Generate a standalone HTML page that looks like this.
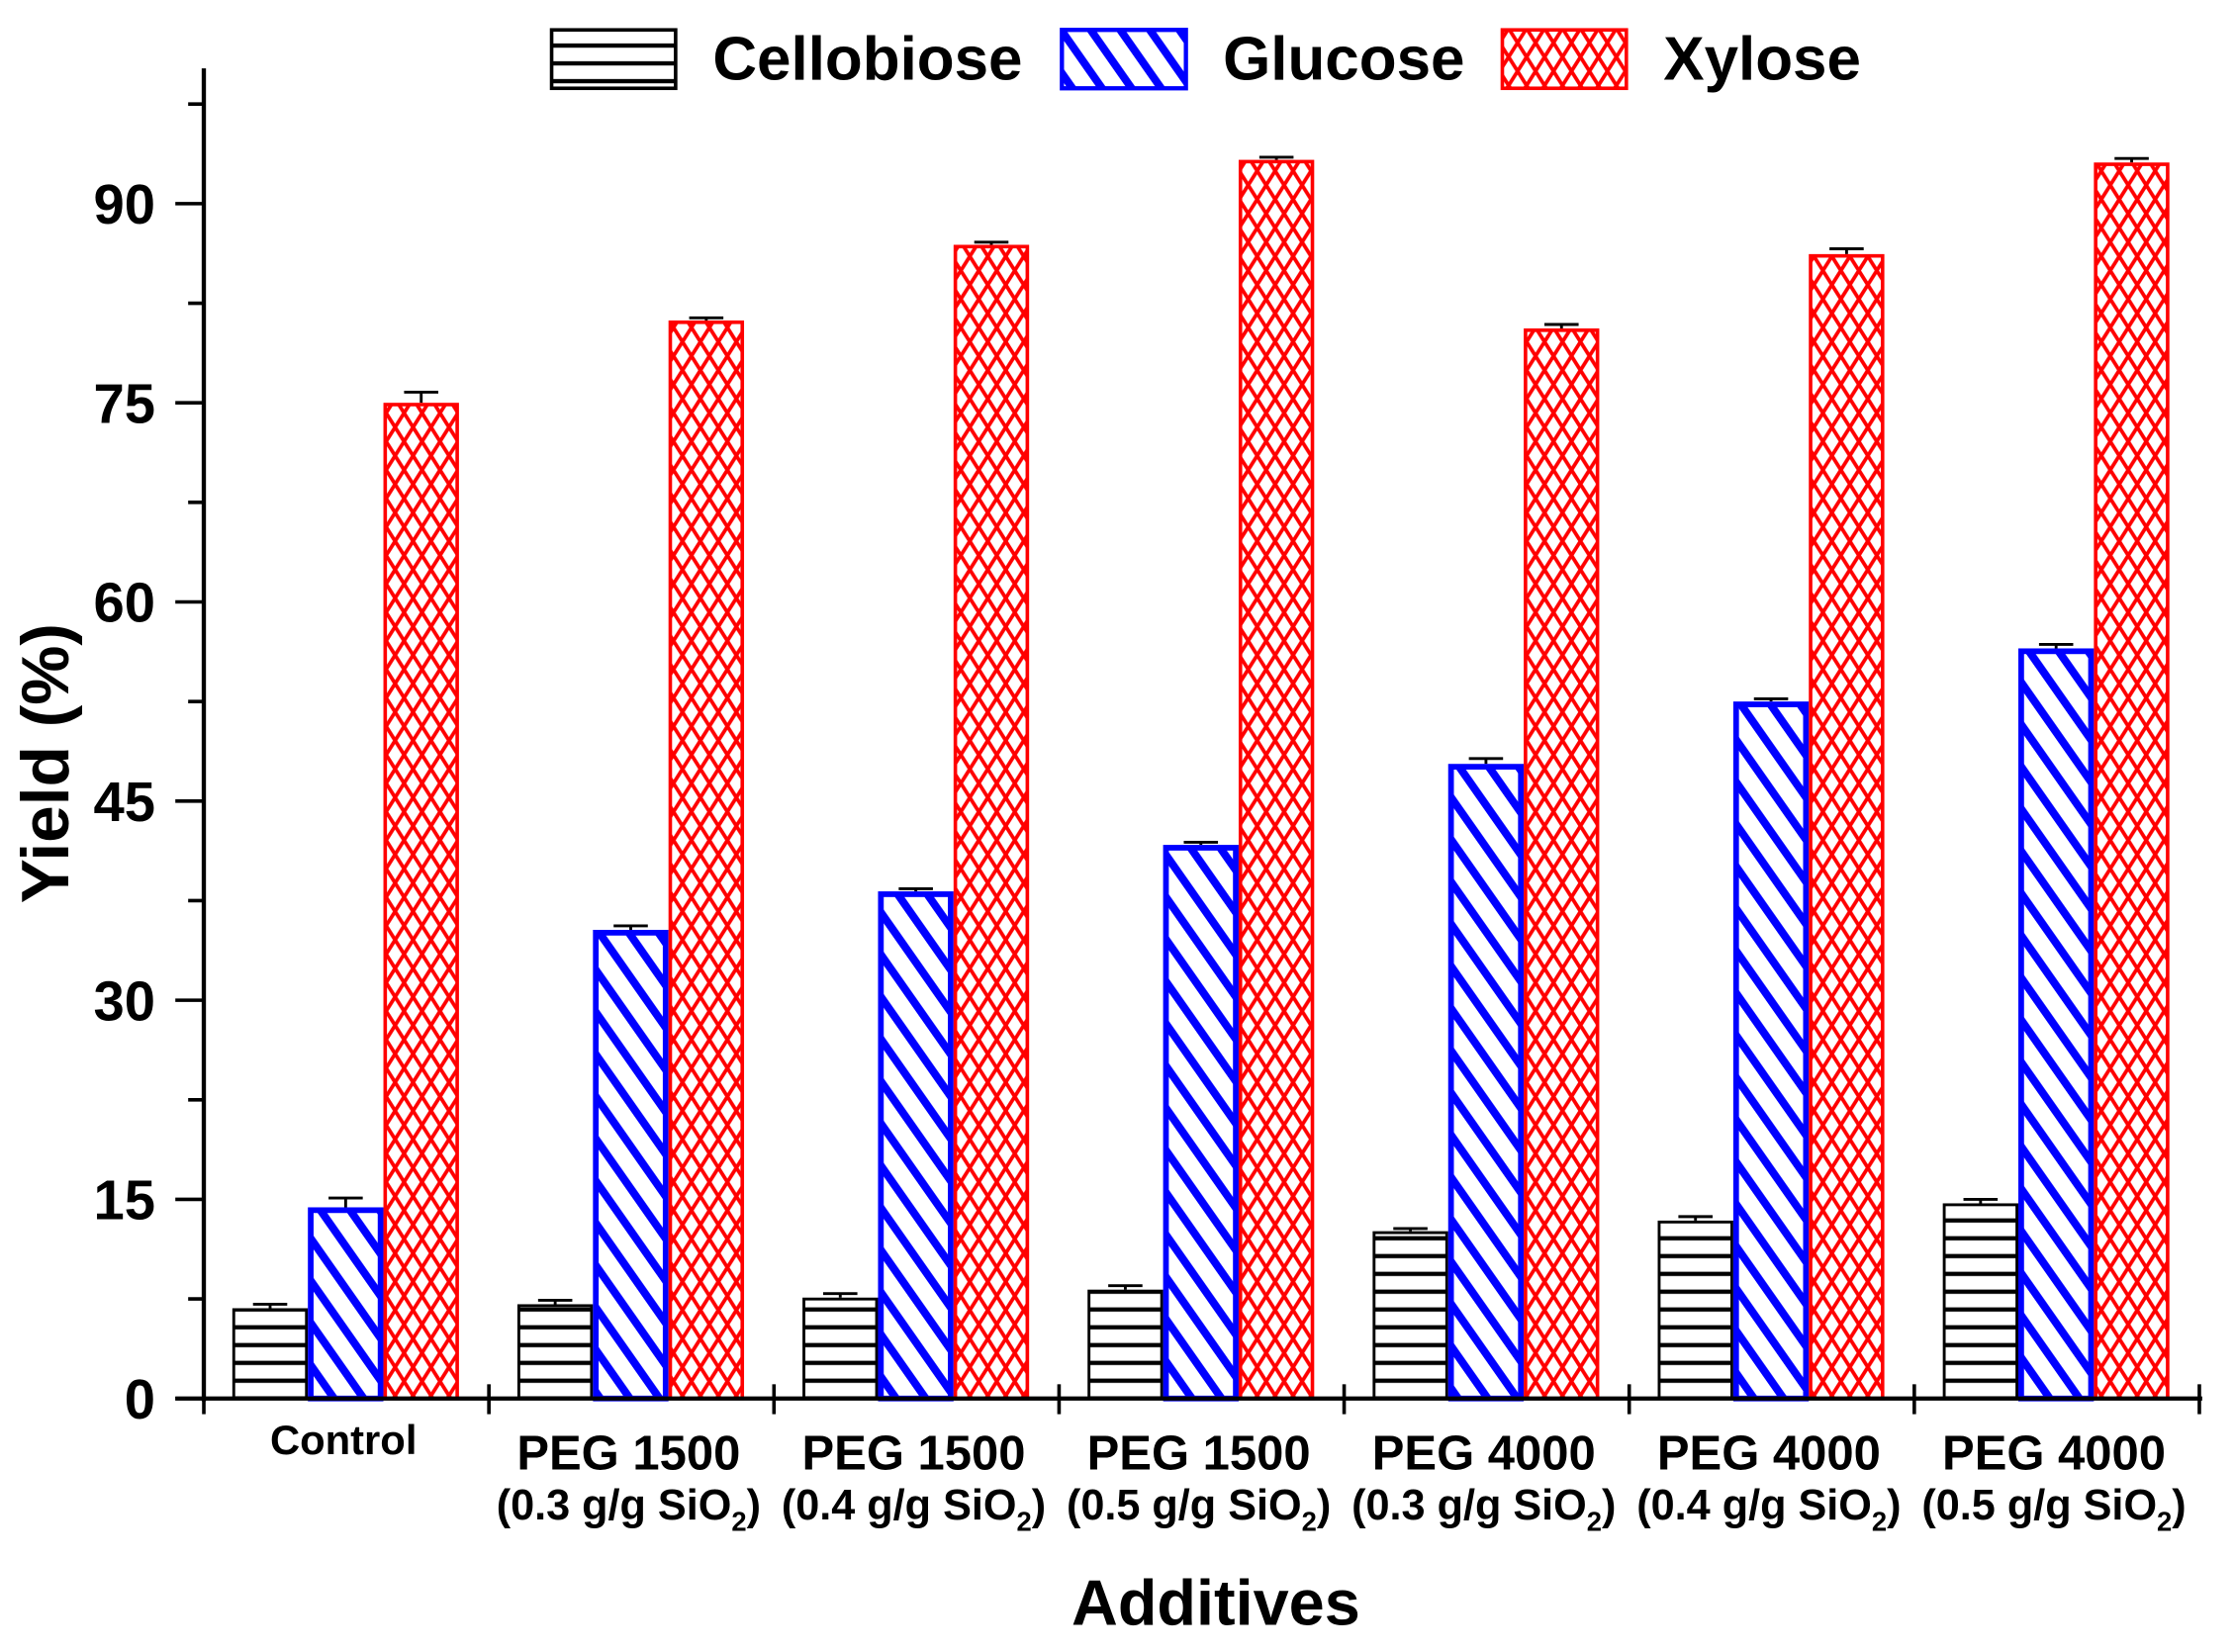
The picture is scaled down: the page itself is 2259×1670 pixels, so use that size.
<!DOCTYPE html>
<html><head><meta charset="utf-8"><style>html,body{margin:0;padding:0;background:#fff}svg{display:block}text{font-family:"Liberation Sans",Arial,sans-serif;font-weight:bold}</style></head>
<body>
<svg id="chart" width="2259" height="1670" viewBox="0 0 1568 1160" preserveAspectRatio="none" xmlns="http://www.w3.org/2000/svg">
<defs>
<pattern id="pCel" patternUnits="userSpaceOnUse" width="20" height="12.5" y="982"><rect width="20" height="12.5" fill="#fff"/><rect y="-1.5" width="20" height="3" fill="#000"/><rect y="11" width="20" height="3" fill="#000"/></pattern>
<pattern id="pGlu" patternUnits="userSpaceOnUse" width="17" height="17" patternTransform="rotate(-35)"><rect width="17" height="17" fill="#fff"/><rect width="5.5" height="17" fill="#0000ff"/></pattern>
<pattern id="pXyl" patternUnits="userSpaceOnUse" width="12.6" height="20"><rect width="12.6" height="20" fill="#fff"/><path d="M0,0 L12.6,20 M12.6,0 L0,20 M-6.3,10 L0,20 M6.3,-10 L18.9,10 M6.3,30 L18.9,10 M-6.3,10 L6.3,-10" stroke="#ff0000" stroke-width="2.6" fill="none"/></pattern>
</defs>
<g id="bars"></g>
<g id="axes"></g>
<g id="legend">
<rect x="387" y="21" width="87" height="41" fill="url(#pCel)" stroke="#000" stroke-width="2.5"/>
<text x="500" y="56" font-size="43">Cellobiose</text>
<rect x="745" y="21" width="87" height="41" fill="url(#pGlu)" stroke="#0000ff" stroke-width="3"/>
<text x="858" y="56" font-size="43">Glucose</text>
<rect x="1054" y="21" width="87" height="41" fill="url(#pXyl)" stroke="#ff0000" stroke-width="2.5"/>
<text x="1167" y="56" font-size="43">Xylose</text>
</g>
<text x="853" y="1141" font-size="45" text-anchor="middle">Additives</text>
<text transform="translate(48,536) rotate(-90)" font-size="47" text-anchor="middle">Yield (%)</text>
</svg>
<script>
const categories1 = ["Control","PEG 1500","PEG 1500","PEG 1500","PEG 4000","PEG 4000","PEG 4000"];
const categories2 = ["","(0.3 g/g SiO","(0.4 g/g SiO","(0.5 g/g SiO","(0.3 g/g SiO","(0.4 g/g SiO","(0.5 g/g SiO"];
const cellobiose = [6.8, 7.1, 7.6, 8.2, 12.6, 13.4, 14.7];
const glucose = [14.4, 35.3, 38.2, 41.7, 47.8, 52.5, 56.5];
const xylose = [75.0, 81.2, 86.9, 93.3, 80.6, 86.2, 93.1];
const cellobioseErr = [0.3, 0.3, 0.3, 0.3, 0.2, 0.3, 0.3];
const glucoseErr = [0.7, 0.3, 0.2, 0.2, 0.4, 0.2, 0.3];
const xyloseErr = [0.8, 0.2, 0.2, 0.2, 0.3, 0.4, 0.3];
const yTicks = [0, 15, 30, 45, 60, 75, 90];

const NS = "http://www.w3.org/2000/svg";
const X0 = 143, Y0 = 982, YSCALE = (982 - 143) / 90, GW = 200, BW = 53;
const yPos = v => Y0 - v * YSCALE;
const xGroup = i => X0 + GW * i + GW / 2;
function mk(tag, attrs, parent) { const e = document.createElementNS(NS, tag); for (const k in attrs) e.setAttribute(k, attrs[k]); parent.appendChild(e); return e; }
const bars = document.getElementById('bars');
const axes = document.getElementById('axes');
const series = [
  {name: 'cellobiose', vals: cellobiose, err: cellobioseErr, fill: 'url(#pCel)', stroke: '#000', sw: 2},
  {name: 'glucose', vals: glucose, err: glucoseErr, fill: 'url(#pGlu)', stroke: '#0000ff', sw: 4},
  {name: 'xylose', vals: xylose, err: xyloseErr, fill: 'url(#pXyl)', stroke: '#ff0000', sw: 2.5}
];
series.forEach((s, si) => {
  s.vals.forEach((v, i) => {
    const x = xGroup(i) - 80 + si * BW;
    const top = yPos(v), et = yPos(v + s.err[i]);
    const eb = mk('path', {d: `M${x + BW / 2},${top} V${et} M${x + BW / 2 - 12},${et} H${x + BW / 2 + 12}`, stroke: '#000', 'stroke-width': 2, fill: 'none'}, bars);
    
    
    const r = mk('rect', {x: x + s.sw / 2, y: top + s.sw / 2, width: BW - s.sw, height: Y0 - top - s.sw / 2, fill: s.fill, stroke: s.stroke, 'stroke-width': s.sw}, bars);
    
    
  });
});
const yAxis = mk('line', {x1: X0, y1: 48, x2: X0, y2: Y0 + 2, stroke: '#000', 'stroke-width': 3}, axes);


const xAxis = mk('line', {x1: 123, y1: Y0, x2: X0 + GW * categories1.length + 2, y2: Y0, stroke: '#000', 'stroke-width': 3}, axes);


yTicks.forEach(t => {
  const y = yPos(t);
  const tk = mk('line', {x1: 123, y1: y, x2: X0, y2: y, stroke: '#000', 'stroke-width': 2.5}, axes);
  
  
  const mn = mk('line', {x1: 132, y1: yPos(t + 7.5), x2: X0, y2: yPos(t + 7.5), stroke: '#000', 'stroke-width': 2.5}, axes);
  
  
  const lb = mk('text', {x: 109, y: y + 14, 'font-size': 39, 'text-anchor': 'end'}, axes);
  lb.textContent = t;
  
  
});
for (let i = 0; i <= categories1.length; i++) {
  const x = X0 + GW * i;
  const tk = mk('line', {x1: x, y1: 972, x2: x, y2: 993, stroke: '#000', 'stroke-width': 2.5}, axes);
  
  
}
categories1.forEach((c, i) => {
  const cx = xGroup(i);
  const first = i === 0;
  const t1 = mk('text', {x: cx - 2, y: first ? 1021 : 1032, 'font-size': first ? 29 : 34, 'text-anchor': 'middle'}, axes);
  t1.textContent = c;
  
  
  if (categories2[i]) {
    const t2 = mk('text', {x: cx - 2, y: 1067, 'font-size': 30, 'text-anchor': 'middle'}, axes);
    
    
    t2.appendChild(document.createTextNode(categories2[i]));
    const sub = mk('tspan', {'font-size': 19, dy: 8}, t2);
    sub.textContent = '2';
    const cl = mk('tspan', {dy: -8}, t2);
    cl.textContent = ')';
  }
});
</script>
</body></html>
